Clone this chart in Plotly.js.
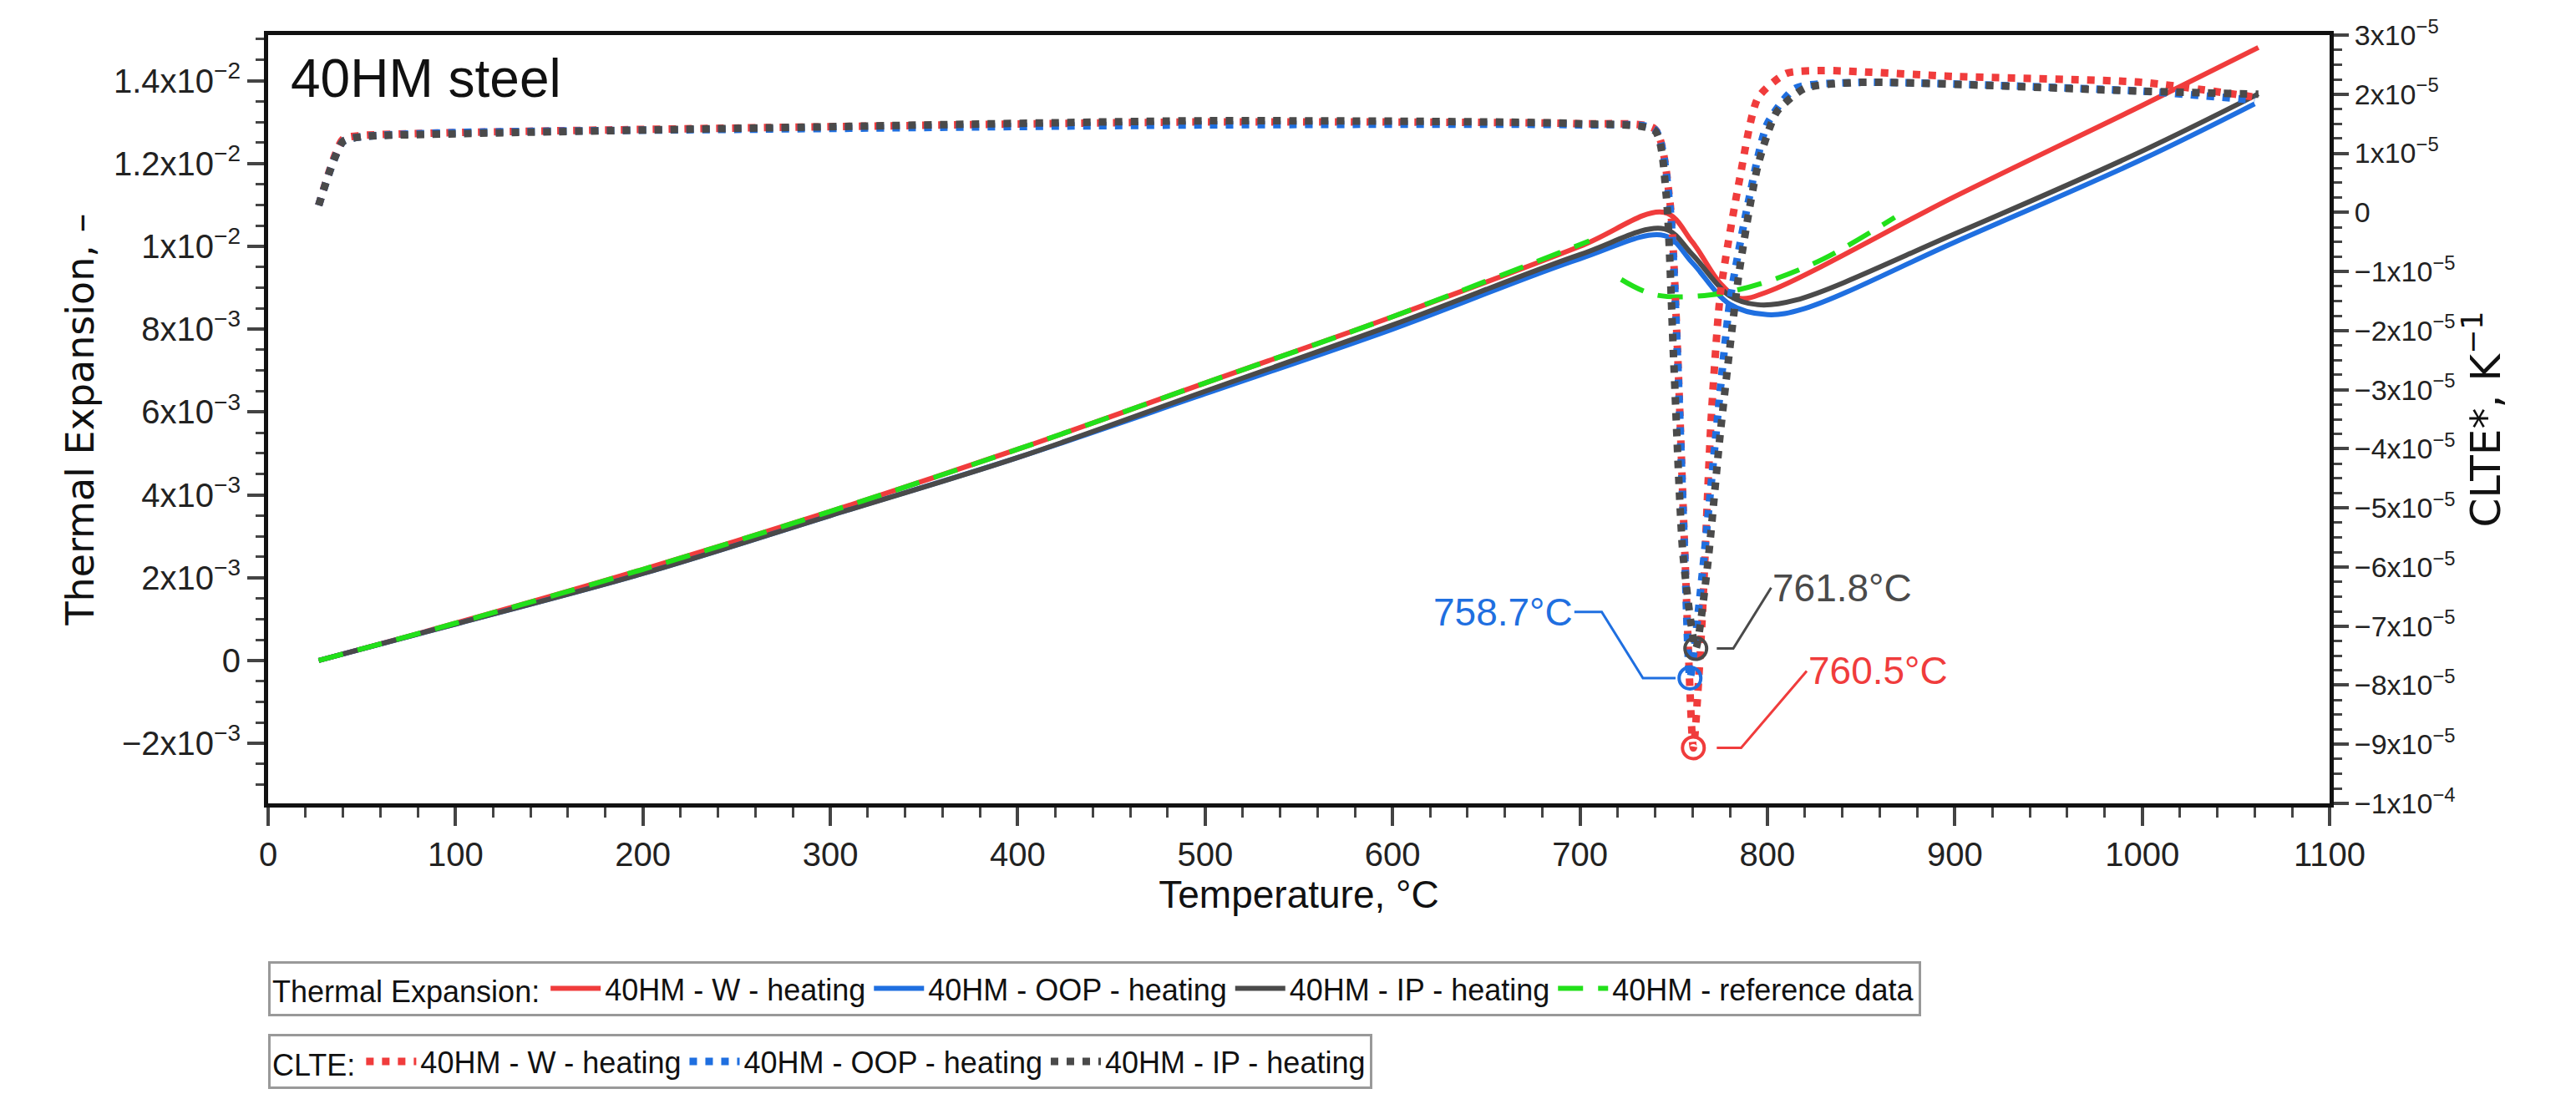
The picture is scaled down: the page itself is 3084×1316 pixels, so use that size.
<!DOCTYPE html>
<html><head><meta charset="utf-8">
<script src="https://cdn.plot.ly/plotly-3.0.1.min.js"></script>
<style>body{margin:0;background:#fff}#c{width:3084px;height:1316px}</style>
</head><body><div id="c"></div>
<script>
// Thermal expansion (left axis)
const teW_T = [27,100,200,300,400,500,600,700,745,760,775,785,800,900,1000,1062];
const teW_V = [0,0.0009,0.0022,0.0036,0.0051,0.0067,0.0083,0.0100,0.01082,0.0101,0.0091,0.00875,0.0089,0.0112,0.0134,0.0148];
const teO_T = [27,100,200,300,400,500,600,700,745,760,780,800,820,900,1000,1060];
const teO_V = [0,0.00088,0.0021,0.0035,0.0049,0.00644,0.0080,0.0097,0.01026,0.0096,0.0086,0.00835,0.0085,0.0101,0.0121,0.01344];
const teI_T = [27,100,200,300,400,500,600,700,745,760,780,795,815,900,1000,1062];
const teI_V = [0,0.00088,0.0021,0.0035,0.0049,0.0065,0.0081,0.0098,0.01042,0.0098,0.0088,0.00859,0.0087,0.0103,0.0123,0.01368];
const teR_T = [27,100,200,300,400,500,600,705,712,722,740,770,800,830,868];
const teR_V = [0,0.0009,0.0022,0.0036,0.0051,0.0067,0.0083,0.01013,null,0.0092,0.00883,0.00883,0.00915,0.0097,0.0107];
// CLTE (right axis)
const cW_T = [27,40,50,100,300,500,700,740,748,752,756,760.5,765,770,775,785,795,810,830,900,1000,1060];
const cW_V = [0.12e-5,1.24e-5,1.3e-5,1.35e-5,1.45e-5,1.53e-5,1.5e-5,1.41e-5,0.18e-5,-2.3e-5,-5.8e-5,-9.06e-5,-7e-5,-3.5e-5,-1.35e-5,0.53e-5,1.94e-5,2.35e-5,2.4e-5,2.3e-5,2.2e-5,1.95e-5];
const cO_T = [27,40,50,100,300,500,700,740,748,752,756,758.7,765,770,780,790,800,815,850,1000,1060];
const cO_V = [0.12e-5,1.2e-5,1.28e-5,1.35e-5,1.42e-5,1.48e-5,1.48e-5,1.4e-5,0.1e-5,-2.4e-5,-5.9e-5,-7.88e-5,-6.2e-5,-4.6e-5,-1.5e-5,0.2e-5,1.5e-5,2.1e-5,2.2e-5,2.05e-5,1.9e-5];
const cI_T = [27,40,50,100,300,500,700,740,746,750,755,761.8,768,775,785,795,805,820,850,1000,1062];
const cI_V = [0.12e-5,1.2e-5,1.28e-5,1.33e-5,1.45e-5,1.55e-5,1.5e-5,1.38e-5,0.3e-5,-2.5e-5,-5.8e-5,-7.38e-5,-6e-5,-3.7e-5,-1e-5,0.8e-5,1.7e-5,2.1e-5,2.2e-5,2.05e-5,2.0e-5];
const minT = [760.5,758.7,761.8];
const minV = [-9.06e-5,-7.88e-5,-7.38e-5];
const minLabels = ['760.5°C','758.7°C','761.8°C'];
const leftTicks = [-0.002,0,0.002,0.004,0.006,0.008,0.01,0.012,0.014];
const leftText = ['−2x10<sup>−3</sup>','0','2x10<sup>−3</sup>','4x10<sup>−3</sup>','6x10<sup>−3</sup>','8x10<sup>−3</sup>','1x10<sup>−2</sup>','1.2x10<sup>−2</sup>','1.4x10<sup>−2</sup>'];
const rightTicks = [-1e-4,-9e-5,-8e-5,-7e-5,-6e-5,-5e-5,-4e-5,-3e-5,-2e-5,-1e-5,0,1e-5,2e-5,3e-5];
const rightText = ['−1x10<sup>−4</sup>','−9x10<sup>−5</sup>','−8x10<sup>−5</sup>','−7x10<sup>−5</sup>','−6x10<sup>−5</sup>','−5x10<sup>−5</sup>','−4x10<sup>−5</sup>','−3x10<sup>−5</sup>','−2x10<sup>−5</sup>','−1x10<sup>−5</sup>','0','1x10<sup>−5</sup>','2x10<sup>−5</sup>','3x10<sup>−5</sup>'];

const RED='#f03c3c', BLUE='#1f6fe0', GRAY='#4a4a4a', GREEN='#22e01a';
const F='Liberation Sans, Arial, sans-serif';
const dotDash='9px,10px';
const traces=[
 {x:teW_T,y:teW_V,mode:'lines',name:'40HM - W - heating',line:{color:RED,width:6,shape:'spline'},legend:'legend'},
 {x:teO_T,y:teO_V,mode:'lines',name:'40HM - OOP - heating',line:{color:BLUE,width:6,shape:'spline'},legend:'legend'},
 {x:teI_T,y:teI_V,mode:'lines',name:'40HM - IP - heating',line:{color:GRAY,width:6,shape:'spline'},legend:'legend'},
 {x:teR_T,y:teR_V,mode:'lines',name:'40HM - reference data',line:{color:GREEN,width:6,dash:'30px,18px',shape:'spline'},legend:'legend'},
 {x:cW_T,y:cW_V,yaxis:'y2',mode:'lines',name:'40HM - W - heating',line:{color:RED,width:9,dash:dotDash,shape:'spline',smoothing:0.6},legend:'legend2'},
 {x:cO_T,y:cO_V,yaxis:'y2',mode:'lines',name:'40HM - OOP - heating',line:{color:BLUE,width:9,dash:dotDash,shape:'spline',smoothing:0.6},legend:'legend2'},
 {x:cI_T,y:cI_V,yaxis:'y2',mode:'lines',name:'40HM - IP - heating',line:{color:GRAY,width:9,dash:dotDash,shape:'spline',smoothing:0.6},legend:'legend2'},
 {x:minT,y:minV,yaxis:'y2',mode:'markers',showlegend:false,marker:{symbol:'circle-open',size:26,color:[RED,BLUE,GRAY],line:{width:4,color:[RED,BLUE,GRAY]}}}
];
const cols=[RED,BLUE,GRAY];
const conn=[
 [[773,786,821],[minV[0],minV[0],-7.76e-5]],
 [[751,733.6,711.6,697],[minV[1],minV[1],-6.76e-5,-6.76e-5]],
 [[773,781.8,802],[minV[2],minV[2],-6.35e-5]]
];
conn.forEach((c,i)=>traces.push({x:c[0],y:c[1],yaxis:'y2',mode:'lines',showlegend:false,line:{color:cols[i],width:3}}));
const tick={family:F,size:40,color:'#222'};
const layout={
 width:3084,height:1316,margin:{l:321,r:295,t:42,b:351},
 paper_bgcolor:'#fff',plot_bgcolor:'#fff',font:{family:F,color:'#111'},
 xaxis:{range:[0,1100],dtick:100,tick0:0,ticks:'outside',ticklen:22,tickwidth:4,linecolor:'#111',linewidth:5,mirror:true,showgrid:false,zeroline:false,
   minor:{dtick:20,ticks:'outside',ticklen:12,tickwidth:3},tickfont:tick,
   title:{text:'Temperature, °C',font:{family:F,size:46,color:'#111'},standoff:2}},
 yaxis:{range:[-0.00345,0.0151],tickvals:leftTicks,ticktext:leftText,ticks:'outside',ticklen:20,tickwidth:4,linecolor:'#111',linewidth:5,showgrid:false,zeroline:false,
   minor:{dtick:0.0005,ticks:'outside',ticklen:10,tickwidth:3},tickfont:tick,
   title:{text:'Thermal Expansion, –',font:{family:'DejaVu Sans, sans-serif',size:46,color:'#111'},standoff:10}},
 yaxis2:{overlaying:'y',side:'right',range:[-1e-4,3e-5],tickvals:rightTicks,ticktext:rightText,ticks:'outside',ticklen:18,tickwidth:4,linecolor:'#111',linewidth:5,showgrid:false,zeroline:false,
   minor:{dtick:2.5e-6,ticks:'outside',ticklen:10,tickwidth:3},tickfont:{family:F,size:34,color:'#222'},
   title:{text:'CLTE*, K<sup>−1</sup>',font:{family:'DejaVu Sans, sans-serif',size:50,color:'#111'},standoff:10}},
 legend:{orientation:'h',x:0,xanchor:'left',y:-0.205,yanchor:'top',bordercolor:'#999',borderwidth:3,
   font:{family:F,size:36,color:'#111'},title:{text:'Thermal Expansion:',font:{family:F,size:36,color:'#111'}},itemwidth:60},
 legend2:{orientation:'h',x:0,xanchor:'left',y:-0.3,yanchor:'top',bordercolor:'#999',borderwidth:3,
   font:{family:F,size:36,color:'#111'},title:{text:'CLTE:',font:{family:F,size:36,color:'#111'}},itemwidth:60},
 annotations:[
  {xref:'paper',yref:'paper',x:0.01,y:0.985,xanchor:'left',yanchor:'top',text:'40HM steel',showarrow:false,font:{family:F,size:64,color:'#111'}},
  {x:821,y:-7.76e-5,yref:'y2',xanchor:'left',text:minLabels[0],showarrow:false,font:{family:F,size:46,color:RED}},
  {x:697,y:-6.76e-5,yref:'y2',xanchor:'right',text:minLabels[1],showarrow:false,font:{family:F,size:46,color:BLUE}},
  {x:802,y:-6.35e-5,yref:'y2',xanchor:'left',text:minLabels[2],showarrow:false,font:{family:F,size:46,color:GRAY}}
 ]
};
Plotly.newPlot('c',traces,layout,{displayModeBar:false});
</script></body></html>
